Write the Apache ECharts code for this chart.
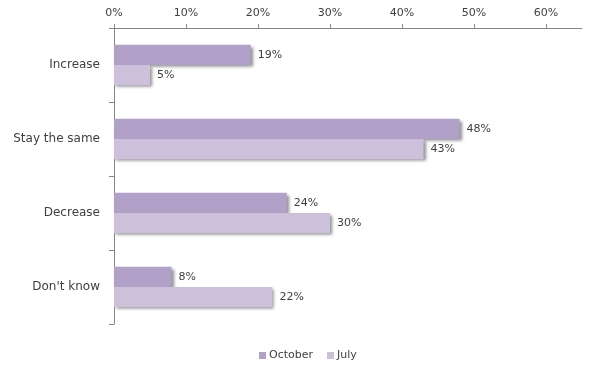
<!DOCTYPE html>
<html>
<head>
<meta charset="utf-8">
<script src="https://cdn.jsdelivr.net/npm/echarts@6/dist/echarts.min.js"></script>
<style>html,body{margin:0;padding:0;background:#fff}#c{width:594px;height:379px}</style>
</head>
<body>
<div id="c"></div>
<script>
const categories = ['Increase', 'Stay the same', 'Decrease', "Don't know"];
const october = [19, 48, 24, 8];
const july = [5, 43, 30, 22];
const seriesNames = ['October', 'July'];
const xTicks = [0, 10, 20, 30, 40, 50, 60];

const font = 'DejaVu Sans';
const txt = '#404040';
const axisCol = '#868686';
const chart = echarts.init(document.getElementById('c'));
const shadow = {shadowColor: 'rgba(0,0,0,0.45)', shadowBlur: 3, shadowOffsetX: 2, shadowOffsetY: 2};
chart.setOption({
  animation: false,
  textStyle: {fontFamily: font},
  legend: {
    bottom: 13, left: 254, itemWidth: 7, itemHeight: 7, itemGap: 14,
    icon: 'rect',
    textStyle: {fontFamily: font, fontSize: 11, color: txt, padding: [0, 0, 0, -2]},
    data: seriesNames
  },
  grid: [
    {left: 114, top: 28, right: 12, bottom: 55},
    {left: 114, top: 28, width: 432, bottom: 55}
  ],
  xAxis: [
    {
      gridIndex: 0, type: 'value', position: 'top', min: 0, max: 65,
      axisLine: {show: true, lineStyle: {color: axisCol}},
      axisTick: {show: false}, axisLabel: {show: false}, splitLine: {show: false}
    },
    {
      gridIndex: 1, type: 'value', position: 'top', min: xTicks[0], max: xTicks[xTicks.length - 1], interval: 10,
      axisLine: {show: false},
      axisTick: {show: true, length: 4, inside: false, lineStyle: {color: axisCol}},
      axisLabel: {formatter: '{value}%', fontFamily: font, fontSize: 11, color: txt, margin: 9},
      splitLine: {show: false}
    }
  ],
  yAxis: [
    {
      gridIndex: 0, type: 'category', data: categories, inverse: true,
      axisLine: {show: true, lineStyle: {color: axisCol}},
      axisTick: {show: true, length: 5, lineStyle: {color: axisCol}},
      axisLabel: {fontFamily: font, fontSize: 12, color: txt, margin: 14}
    },
    {
      gridIndex: 1, type: 'category', data: categories, inverse: true, show: false
    }
  ],
  series: [
    {
      name: seriesNames[0], type: 'bar', xAxisIndex: 0, yAxisIndex: 0, data: october,
      barGap: '0%', barCategoryGap: '45%',
      itemStyle: Object.assign({color: '#b1a0c7'}, shadow),
      label: {show: true, position: 'right', formatter: '{c}%', fontFamily: font, fontSize: 11, color: txt, distance: 7}
    },
    {
      name: seriesNames[1], type: 'bar', xAxisIndex: 0, yAxisIndex: 0, data: july,
      barGap: '0%', barCategoryGap: '45%',
      itemStyle: Object.assign({color: '#ccc0da'}, shadow),
      label: {show: true, position: 'right', formatter: '{c}%', fontFamily: font, fontSize: 11, color: txt, distance: 7}
    }
  ]
});
</script>
</body>
</html>
